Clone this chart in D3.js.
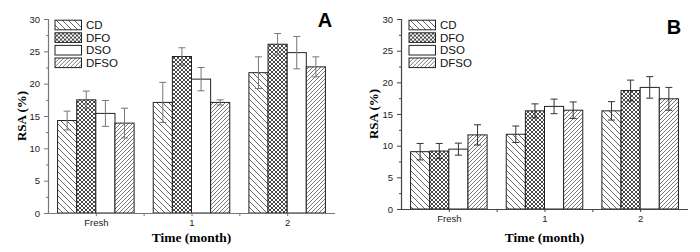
<!DOCTYPE html>
<html>
<head>
<meta charset="utf-8">
<script src="https://cdn.jsdelivr.net/npm/d3@7"></script>
<style>
  body { margin: 0; background: #fff; }
  svg { display: block; }
  .tick text { font-family: "Liberation Sans", Arial, sans-serif; font-size: 9.5px; fill: #222; }
</style>
</head>
<body>
<svg id="chart" width="700" height="252"></svg>
<script>
const seriesNames = ["CD", "DFO", "DSO", "DFSO"];
const timeLabels = ["Fresh", "1", "2"];
const yTicks = [0, 5, 10, 15, 20, 25, 30];
const yMinor = [2.5, 7.5, 12.5, 17.5, 22.5, 27.5];

// panel A, one row per series, one value per time point
const meanA = [[14.3, 17.1, 21.7], [17.5, 24.2, 26.1], [15.4, 20.7, 24.8], [13.9, 17.1, 22.6]];
const errA = [[1.45, 3.1, 2.45], [1.35, 1.35, 1.65], [2.0, 1.8, 2.5], [2.3, 0.4, 1.55]];

// panel B
const meanB = [[9.05, 11.8, 15.5], [9.15, 15.5, 18.7], [9.45, 16.2, 19.2], [11.7, 15.6, 17.4]];
const errB = [[1.3, 1.3, 1.45], [1.2, 1.1, 1.65], [0.95, 1.15, 1.7], [1.6, 1.3, 1.8]];

const svg = d3.select("#chart");
const defs = svg.append("defs");

// hatch patterns
const pCD = defs.append("pattern").attr("id", "pat-cd")
    .attr("patternUnits", "userSpaceOnUse").attr("width", 6).attr("height", 6);
pCD.append("rect").attr("width", 6).attr("height", 6).attr("fill", "#fff");
pCD.append("path").attr("d", "M0,0L6,6M-1,5L1,7M5,-1L7,1")
    .attr("stroke", "#555").attr("stroke-width", 0.9);

const pDFO = defs.append("pattern").attr("id", "pat-dfo")
    .attr("patternUnits", "userSpaceOnUse").attr("width", 4).attr("height", 4);
pDFO.append("rect").attr("width", 4).attr("height", 4).attr("fill", "#fff");
pDFO.append("path").attr("d", "M0,0L4,4M0,4L4,0M-1,1L1,-1M3,5L5,3M-1,3L1,5M3,-1L5,1")
    .attr("stroke", "#333").attr("stroke-width", 0.9);

const pDFSO = defs.append("pattern").attr("id", "pat-dfso")
    .attr("patternUnits", "userSpaceOnUse").attr("width", 4).attr("height", 4);
pDFSO.append("rect").attr("width", 4).attr("height", 4).attr("fill", "#fff");
pDFSO.append("path").attr("d", "M0,4L4,0M-1,1L1,-1M3,5L5,3")
    .attr("stroke", "#555").attr("stroke-width", 0.8);

const fills = ["url(#pat-cd)", "url(#pat-dfo)", "#fff", "url(#pat-dfso)"];

function drawPanel(cfg) {
    const g = svg.append("g");
    const x = d3.scaleLinear().domain([-0.5, 2.5]).range([cfg.left, cfg.right]);
    const y = d3.scaleLinear().domain([0, 30]).range([cfg.bottom, cfg.top]);
    const barW = x(0.2) - x(0);

    // bars
    seriesNames.forEach((s, si) => {
        const rows = cfg.means[si].map((v, ti) => ({ t: ti, v: v, e: cfg.errs[si][ti] }));
        g.selectAll(".bar-" + si)
            .data(rows)
            .enter().append("rect")
            .attr("class", "bar-" + si)
            .attr("x", d => x(d.t + (si - 2) * 0.2))
            .attr("y", d => y(d.v))
            .attr("width", barW)
            .attr("height", d => y(0) - y(d.v))
            .attr("fill", fills[si])
            .attr("stroke", "#222")
            .attr("stroke-width", 1);

        const eb = g.selectAll(".err-" + si)
            .data(rows)
            .enter().append("g")
            .attr("class", "err-" + si)
            .attr("stroke", cfg.errColor)
            .attr("stroke-width", 1);
        const cx = d => x(d.t + (si - 1.5) * 0.2);
        eb.append("line")
            .attr("x1", cx).attr("x2", cx)
            .attr("y1", d => y(d.v + d.e)).attr("y2", d => y(d.v - d.e));
        eb.append("line")
            .attr("x1", d => cx(d) - 3.5).attr("x2", d => cx(d) + 3.5)
            .attr("y1", d => y(d.v + d.e)).attr("y2", d => y(d.v + d.e));
        eb.append("line")
            .attr("x1", d => cx(d) - 3.5).attr("x2", d => cx(d) + 3.5)
            .attr("y1", d => y(d.v - d.e)).attr("y2", d => y(d.v - d.e));
    });

    // y axis
    const ya = g.append("g")
        .attr("transform", `translate(${cfg.left},0)`)
        .call(d3.axisLeft(y).tickValues(yTicks).tickSize(4).tickPadding(4));
    g.append("g")
        .attr("transform", `translate(${cfg.left},0)`)
        .call(d3.axisLeft(y).tickValues(yMinor).tickSize(2).tickFormat(""))
        .select(".domain").remove();

    // x axis
    const xa = g.append("g")
        .attr("transform", `translate(0,${cfg.bottom})`)
        .call(d3.axisBottom(x).tickValues([0, 1, 2]).tickSize(3).tickPadding(3)
            .tickFormat(i => timeLabels[i]));
    g.append("g")
        .attr("transform", `translate(0,${cfg.bottom})`)
        .call(d3.axisBottom(x).tickValues([0.5, 1.5]).tickSize(3).tickFormat(""))
        .select(".domain").remove();

    g.selectAll(".domain").attr("stroke", cfg.axisColor).attr("stroke-width", 1.2);
    g.selectAll(".tick line").attr("stroke", cfg.axisColor);
    ya.select(".domain").attr("d", `M0.5,${cfg.bottom}V${cfg.top}`);
    xa.select(".domain").attr("d", `M${cfg.left},0.5H${cfg.right}`);

    // axis titles
    g.append("text")
        .attr("transform", `translate(${cfg.yLabelX},${(cfg.top + cfg.bottom) / 2}) rotate(-90)`)
        .attr("text-anchor", "middle")
        .attr("font-family", "Liberation Serif, Times New Roman, serif")
        .attr("font-weight", "bold")
        .attr("font-size", "13px")
        .text("RSA (%)");

    g.append("text")
        .attr("x", x(1))
        .attr("y", 242)
        .attr("text-anchor", "middle")
        .attr("font-family", "Liberation Serif, Times New Roman, serif")
        .attr("font-weight", "bold")
        .attr("font-size", "13.5px")
        .text("Time (month)");

    // panel letter
    g.append("text")
        .attr("x", cfg.letterX)
        .attr("y", cfg.letterY)
        .attr("text-anchor", "middle")
        .attr("font-family", "Liberation Sans, Arial, sans-serif")
        .attr("font-weight", "bold")
        .attr("font-size", "20px")
        .text(cfg.letter);

    // legend
    const legend = g.selectAll(".legend")
        .data(seriesNames)
        .enter().append("g")
        .attr("class", "legend")
        .attr("transform", (d, i) => `translate(${cfg.legendX},${25 + i * 12.6})`);
    legend.append("rect")
        .attr("x", 0).attr("y", -4.8)
        .attr("width", 26.5).attr("height", 9.6)
        .attr("fill", (d, i) => fills[i])
        .attr("stroke", "#222");
    legend.append("text")
        .attr("x", 31)
        .attr("y", 0)
        .attr("dy", "0.36em")
        .attr("font-family", "Liberation Sans, Arial, sans-serif")
        .attr("font-size", "11.5px")
        .attr("fill", "#111")
        .text(d => d);
}

drawPanel({
    left: 48, right: 335, top: 19, bottom: 213,
    means: meanA, errs: errA,
    axisColor: "#777", errColor: "#777",
    yLabelX: 26, letter: "A", letterX: 325, letterY: 27,
    legendX: 55
});

drawPanel({
    left: 401, right: 688, top: 19, bottom: 209,
    means: meanB, errs: errB,
    axisColor: "#444", errColor: "#333",
    yLabelX: 378, letter: "B", letterX: 674, letterY: 34,
    legendX: 409
});
</script>
</body>
</html>
